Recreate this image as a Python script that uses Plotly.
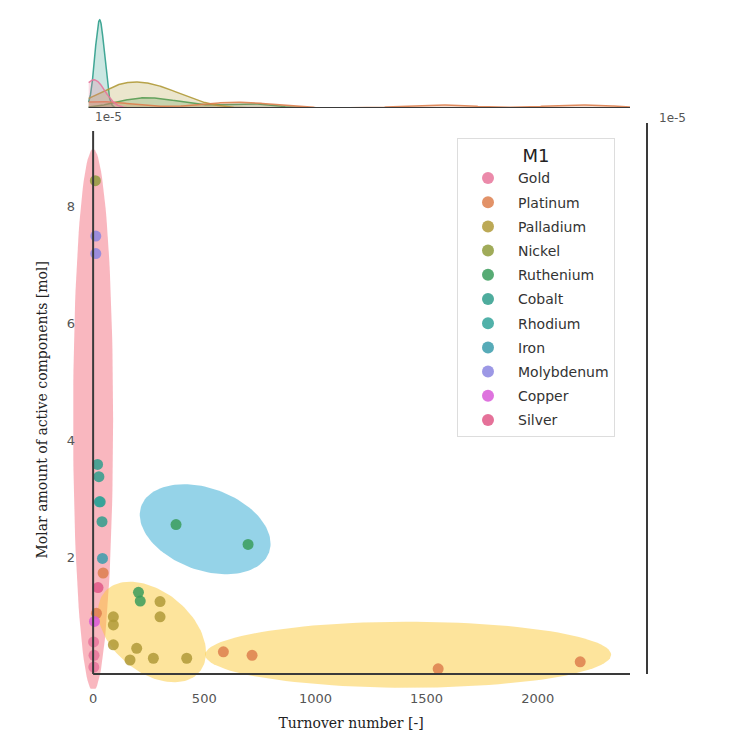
import numpy as np
import plotly.graph_objects as go

# M1 categories in legend order, with their colours
metals = ['Gold', 'Platinum', 'Palladium', 'Nickel', 'Ruthenium', 'Cobalt',
          'Rhodium', 'Iron', 'Molybdenum', 'Copper', 'Silver']
metal_colors = ['#e8769b', '#dd7f4e', '#b09a38', '#8f9c3c', '#3a9c5c', '#2f9e8c',
                '#33a39a', '#3a9cab', '#8b86e0', '#d85ad8', '#e05887']

# one entry per catalyst: metal, turnover number [-], molar amount [1e-5 mol]
point_metal = ['Gold', 'Gold', 'Gold',
               'Platinum', 'Platinum', 'Platinum', 'Platinum', 'Platinum', 'Platinum',
               'Palladium', 'Palladium', 'Palladium', 'Palladium', 'Palladium',
               'Palladium', 'Palladium', 'Palladium', 'Palladium',
               'Nickel',
               'Ruthenium', 'Ruthenium', 'Ruthenium', 'Ruthenium',
               'Cobalt', 'Cobalt', 'Cobalt', 'Cobalt',
               'Rhodium', 'Iron', 'Molybdenum', 'Molybdenum', 'Copper', 'Silver']
turnover = [2, 4, 3,
            45, 15, 586, 715, 1552, 2191,
            91, 91, 91, 166, 196, 271, 301, 301, 421,
            10,
            204, 212, 373, 697,
            20, 26, 32, 40,
            28, 42, 12, 12, 6, 22]
molar = [0.55, 0.32, 0.12,
         1.73, 1.04, 0.38, 0.32, 0.09, 0.21,
         0.98, 0.84, 0.50, 0.24, 0.44, 0.27, 1.24, 0.98, 0.27,
         8.45,
         1.40, 1.25, 2.56, 2.22,
         3.59, 3.38, 2.95, 2.61,
         2.95, 1.98, 7.50, 7.20, 0.90, 1.48]

# kde bandwidths for the top marginal (groups with enough points)
kde_bw = {'Gold': 50, 'Platinum': 150, 'Palladium': 110, 'Ruthenium': 110, 'Cobalt': 20}

# highlighted clusters: centre (ton, mol), semi axes in px, tilt in degrees
ellipses = [
    dict(cx=0, cy=4.35, a=20, b=271, angle=0, color='rgba(244,112,127,0.5)'),
    dict(cx=504, cy=2.48, a=68, b=41, angle=20, color='rgba(43,168,210,0.5)'),
    dict(cx=265, cy=0.72, a=62, b=40, angle=40, color='rgba(252,201,58,0.5)'),
    dict(cx=1417, cy=0.33, a=203, b=33, angle=0, color='rgba(252,201,58,0.5)'),
]

# the page puts the figure 8px in from the corner
OFF = 8
W, H = 739, 732
X_RANGE = [-95, 2415]
Y_RANGE = [-0.25, 9.3]
KDE_LEFT = -20
PX_LEFT, PX_RIGHT = 72, 630
PX_TOP = 131
PX_BOTTOM = 674 - Y_RANGE[0] * 58.5
sx = (PX_RIGHT - PX_LEFT) / (X_RANGE[1] - X_RANGE[0])
sy = (PX_BOTTOM - PX_TOP) / (Y_RANGE[1] - Y_RANGE[0])


def px(x):
    return (x - OFF) / W


def py(y):
    return 1 - (y - OFF) / H


def rgba(hex_color, alpha):
    h = hex_color.lstrip('#')
    r, g, b = int(h[0:2], 16), int(h[2:4], 16), int(h[4:6], 16)
    return f'rgba({r},{g},{b},{alpha})'


fig = go.Figure()

# cluster ellipses (drawn under the points)
t = np.linspace(0, 2 * np.pi, 120)
for e in ellipses:
    th = np.radians(e['angle'])
    dx = e['a'] * np.cos(t) * np.cos(th) - e['b'] * np.sin(t) * np.sin(th)
    dy = e['a'] * np.cos(t) * np.sin(th) + e['b'] * np.sin(t) * np.cos(th)
    fig.add_trace(go.Scatter(
        x=e['cx'] + dx / sx, y=e['cy'] - dy / sy,
        mode='lines', fill='toself', fillcolor=e['color'],
        line=dict(width=0), hoverinfo='skip', showlegend=False,
    ))

# scatter points per metal
metal_arr = np.array(point_metal)
ton_arr = np.array(turnover, dtype=float)
mol_arr = np.array(molar, dtype=float)
for name, col in zip(metals, metal_colors):
    m = metal_arr == name
    fig.add_trace(go.Scatter(
        x=ton_arr[m], y=mol_arr[m], mode='markers', name=name, legendgroup=name,
        marker=dict(color=col, size=11, opacity=0.85, line=dict(width=0)),
        cliponaxis=False,
    ))

# top marginal kde, common normalisation over all points
n_total = len(turnover)
curves = []
for name, col in zip(metals, metal_colors):
    if name not in kde_bw:
        continue
    xs = ton_arr[metal_arr == name]
    bw = kde_bw[name]
    grid = np.linspace(max(xs.min() - 3 * bw, KDE_LEFT), min(xs.max() + 3 * bw, X_RANGE[1]), 400)
    dens = np.exp(-0.5 * ((grid[:, None] - xs[None, :]) / bw) ** 2).sum(axis=1)
    dens = dens / (np.sqrt(2 * np.pi) * bw * n_total)
    curves.append((name, col, grid, dens))

peak = max(c[3].max() for c in curves)
for name, col, grid, dens in reversed(curves):
    fig.add_trace(go.Scatter(
        x=grid, y=dens, mode='lines', xaxis='x2', yaxis='y2',
        line=dict(color=rgba(col, 0.9), width=1.5),
        fill='tozeroy', fillcolor=rgba(col, 0.25),
        hoverinfo='skip', showlegend=False,
    ))

spine = dict(color='#3a3a3a', width=2)
shapes = [
    dict(type='line', xref='x', yref='y', x0=0, x1=X_RANGE[1], y0=0, y1=0, line=spine, layer='above'),
    dict(type='line', xref='x', yref='y', x0=0, x1=0, y0=0, y1=Y_RANGE[1], line=spine, layer='above'),
    dict(type='line', xref='x2', yref='y2', x0=KDE_LEFT, x1=X_RANGE[1], y0=0, y1=0, line=spine, layer='above'),
    dict(type='line', xref='paper', yref='paper', x0=px(647), x1=px(647),
         y0=py(674), y1=py(123), line=spine),
]

tick_font = dict(family='DejaVu Sans', size=13, color='#555555')
title_font = dict(family='DejaVu Serif', size=14, color='#222222')
note_font = dict(family='DejaVu Sans', size=12, color='#555555')

fig.update_layout(
    width=W, height=H,
    margin=dict(l=0, r=0, t=0, b=0, autoexpand=False),
    paper_bgcolor='white', plot_bgcolor='rgba(0,0,0,0)',
    xaxis=dict(domain=[px(PX_LEFT), px(PX_RIGHT)], range=X_RANGE, automargin=False,
               tickvals=[0, 500, 1000, 1500, 2000], ticks='', showgrid=False,
               zeroline=False, showline=False, tickfont=tick_font, ticklabelstandoff=0,
               title=dict(text='Turnover number [-]', font=title_font, standoff=13)),
    yaxis=dict(domain=[py(PX_BOTTOM), py(PX_TOP)], range=Y_RANGE, automargin=False,
               tickvals=[2, 4, 6, 8], ticks='', showgrid=False,
               zeroline=False, showline=False, tickfont=tick_font, ticklabelstandoff=-4,
               title=dict(text='Molar amount of active components [mol]', font=title_font, standoff=15)),
    xaxis2=dict(domain=[px(PX_LEFT), px(PX_RIGHT)], matches='x', anchor='y2', visible=False),
    yaxis2=dict(domain=[py(108), py(10)], range=[0, peak / 0.9], anchor='x2', visible=False),
    shapes=shapes,
    annotations=[
        dict(text='1e-5', xref='paper', yref='paper', x=px(93), y=py(117),
             xanchor='left', yanchor='middle', showarrow=False, font=note_font),
        dict(text='1e-5', xref='paper', yref='paper', x=px(657), y=py(118),
             xanchor='left', yanchor='middle', showarrow=False, font=note_font),
    ],
    legend=dict(x=px(457), y=py(138), xanchor='left', yanchor='top',
                bgcolor='rgba(255,255,255,0.85)', bordercolor='#dddddd', borderwidth=1,
                font=dict(family='DejaVu Sans', size=14, color='#333333'),
                title=dict(text='M1', side='top center', font=dict(family='DejaVu Sans', size=18, color='#222222')),
                itemsizing='constant', itemwidth=50, tracegroupgap=3),
    font=dict(family='DejaVu Sans'),
)

fig.write_html('out.html')
